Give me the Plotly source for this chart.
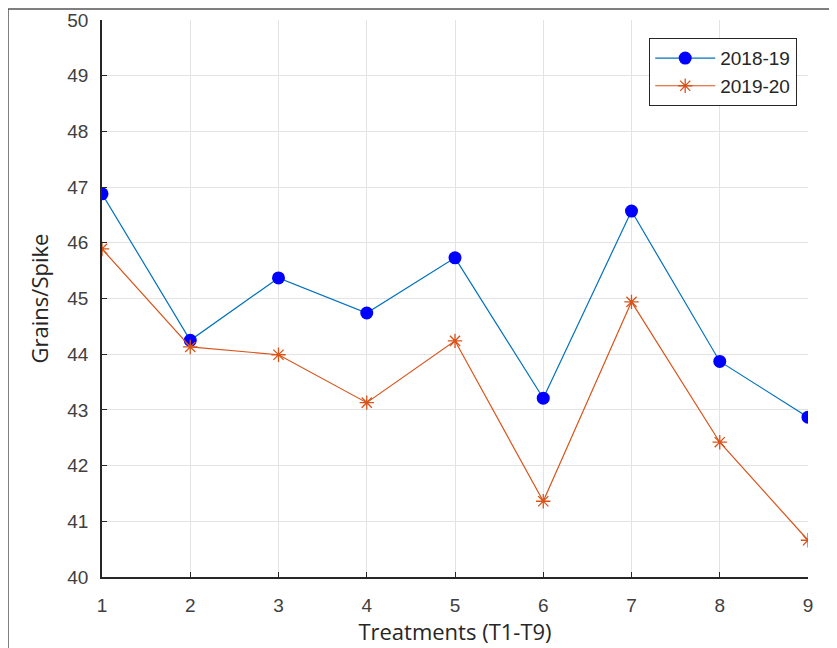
import plotly.graph_objects as go

treatments = [1, 2, 3, 4, 5, 6, 7, 8, 9]
y_2018_19 = [46.88, 44.25, 45.37, 44.74, 45.73, 43.21, 46.57, 43.87, 42.87]
y_2019_20 = [45.89, 44.13, 43.99, 43.13, 44.24, 41.36, 44.94, 42.42, 40.66]
series_names = ["2018-19", "2019-20"]
y_ticks = [40, 41, 42, 43, 44, 45, 46, 47, 48, 49, 50]

# the page body adds an 8px offset; figure coordinates below are page - 8
OFF = 8
W, H = 837, 648
L, R, T, B = 102 - OFF, 29 + OFF, 20 - OFF, 71 + OFF
pw, ph = W - L - R, H - T - B

def px_x(p):  # page pixel -> paper x
    return (p - OFF - L) / pw

def px_y(p):  # page pixel -> paper y
    return (H - B - (p - OFF)) / ph

fig = go.Figure()
fig.add_trace(go.Scatter(
    x=treatments, y=y_2018_19, name=series_names[0], mode="lines+markers",
    line=dict(color="#0072BD", width=1.2),
    marker=dict(symbol="circle", size=13, color="#0000FF", line=dict(width=0)),
))
fig.add_trace(go.Scatter(
    x=treatments, y=y_2019_20, name=series_names[1], mode="lines+markers",
    line=dict(color="#D95319", width=1.2),
    marker=dict(symbol="asterisk-open", size=12, color="#D95319",
                line=dict(width=1.3, color="#D95319")),
))

axis_common = dict(
    showgrid=True, gridcolor="#e3e3e3", gridwidth=1,
    showline=True, linecolor="#262626", linewidth=1.5,
    ticks="inside", ticklen=5, tickcolor="#262626", tickwidth=1.3,
    zeroline=False, mirror=False, automargin=False,
    tickfont=dict(family="Liberation Sans, Arial", size=19, color="#404040"),
)

fig.update_xaxes(range=[1, 9], tickvals=treatments, ticklabelstandoff=10,
                 title=dict(text="Treatments (T1-T9)", standoff=10,
                            font=dict(family="Open Sans", size=22, color="#262626")),
                 **axis_common)
fig.update_yaxes(range=[40, 50], tickvals=y_ticks, ticklabelstandoff=8,
                 title=dict(text="Grains/Spike", standoff=13,
                            font=dict(family="Open Sans", size=22, color="#262626")),
                 **axis_common)

# outer frame lines (left and top)
fig.add_shape(type="line", xref="paper", yref="paper",
              x0=px_x(8), x1=px_x(8), y0=px_y(9), y1=px_y(H + 20),
              line=dict(color="#555555", width=1.5))
fig.add_shape(type="line", xref="paper", yref="paper",
              x0=px_x(8), x1=px_x(W + 20), y0=px_y(9), y1=px_y(9),
              line=dict(color="#555555", width=1.5))

fig.update_layout(
    width=W, height=H,
    margin=dict(l=L, r=R, t=T, b=B),
    paper_bgcolor="white", plot_bgcolor="white",
    showlegend=True,
    legend=dict(
        x=px_x(797), y=px_y(38), xanchor="right", yanchor="top",
        bgcolor="white", bordercolor="#262626", borderwidth=1.2,
        font=dict(family="Liberation Sans, Arial", size=19, color="#262626"),
        tracegroupgap=0, itemwidth=60,
    ),
)

fig.write_html("out.html")
